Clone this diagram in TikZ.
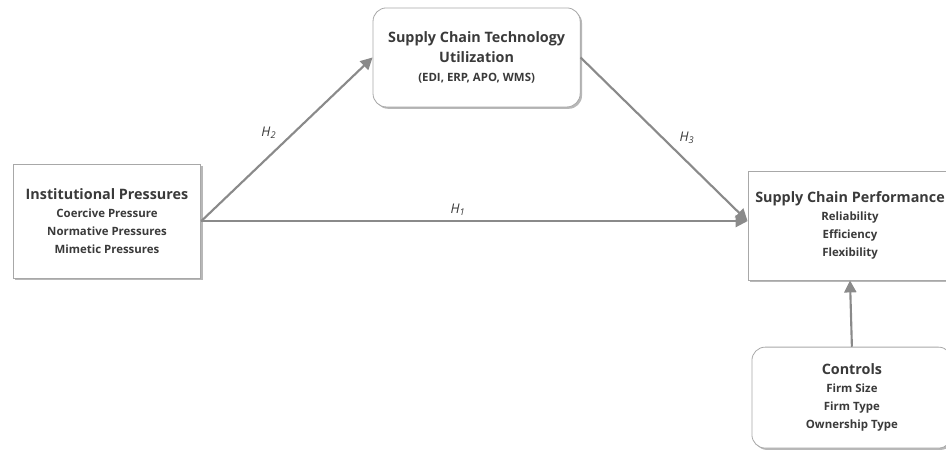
\documentclass[tikz,border=0pt]{standalone}
\usepackage{fontspec}
\setmainfont{Open Sans}
\usetikzlibrary{arrows.meta,shadows}
\definecolor{txt}{HTML}{3A3A3A}
\definecolor{edge}{HTML}{A8A8A8}
\definecolor{link}{HTML}{8A8A8A}
\newcommand{\hyp}[1]{\textit{H}\textsubscript{\textit{#1}}}
\newcommand{\subline}[1]{{\fontsize{8.6}{13.5}\selectfont #1}}
\begin{document}
\begin{tikzpicture}[x=1cm,y=1cm,
  box/.style={draw=edge, fill=white, line width=0.6pt, align=center, text=txt,
    font=\bfseries\fontsize{10.8}{13.5}\selectfont,
    drop shadow={shadow xshift=1.4pt, shadow yshift=-1.4pt, fill=black!35, opacity=0.8}},
  rbox/.style={box, rounded corners=10pt},
  arr/.style={draw=link, line width=1.6pt, -{Triangle[length=9pt,width=9pt]}},
  hlab/.style={text=txt, font=\fontsize{10}{11}\selectfont}]
\useasboundingbox (0,0) rectangle (25.03,-11.906);
\node[box, minimum width=4.97cm, minimum height=3.02cm] (inst) at (2.83,-5.85)
  {Institutional Pressures\\ \subline{Coercive Pressure}\\
   \subline{Normative Pressures}\\ \subline{Mimetic Pressures}};
\node[rbox, minimum width=5.48cm, minimum height=2.62cm] (tech) at (12.61,-1.52)
  {Supply Chain Technology\\[2pt] Utilization\\[1pt] \subline{(EDI, ERP, APO, WMS)}};
\node[box, minimum width=5.40cm, minimum height=2.88cm] (perf) at (22.49,-5.97)
  {Supply Chain Performance\\ \subline{Reliability}\\
   \subline{Efficiency}\\ \subline{Flexibility}};
\node[rbox, minimum width=5.29cm, minimum height=2.67cm] (ctrl) at (22.54,-10.52)
  {Controls\\ \subline{Firm Size}\\
   \subline{Firm Type}\\ \subline{Ownership Type}};
% hypothesised paths
\draw[arr] (inst.east) -- (inst.east -| perf.west) node[hlab, pos=0.47, above] {\hyp{1}};
\draw[arr] (inst.east) -- (tech.west) node[hlab, pos=0.47, above left] {\hyp{2}};
\draw[arr] (tech.east) -- (inst.east -| perf.west) node[hlab, pos=0.56, above right] {\hyp{3}};
\draw[arr] (ctrl.north) -- (perf.south);
\end{tikzpicture}
\end{document}
